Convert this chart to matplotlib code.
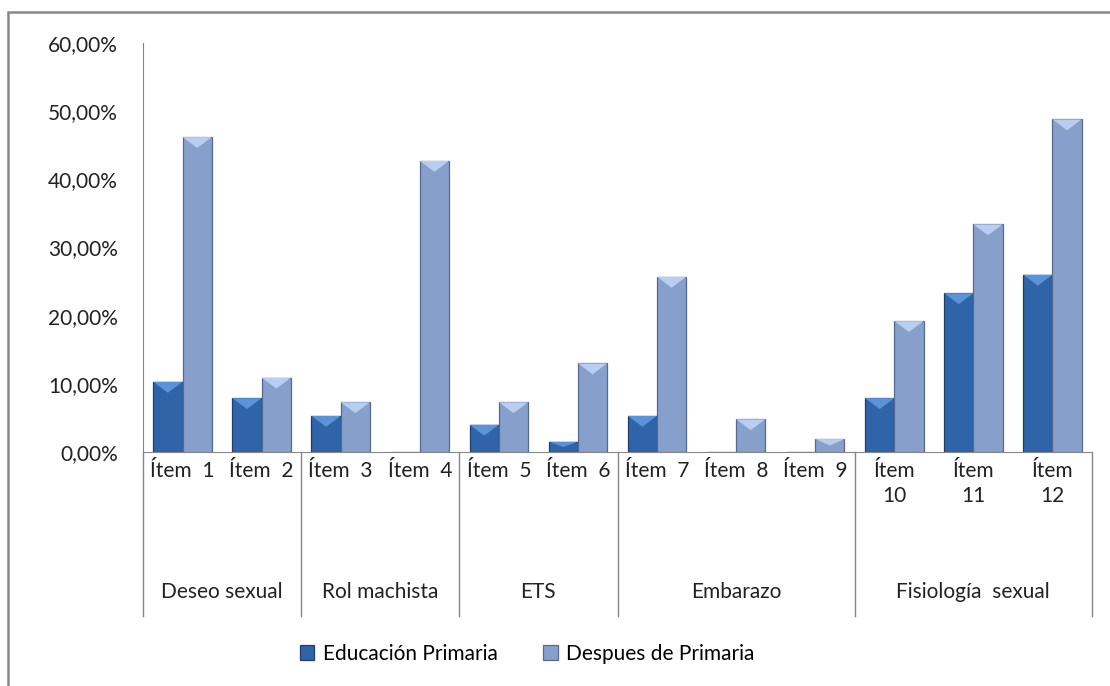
import numpy as np
import matplotlib
matplotlib.use("Agg")
import matplotlib.pyplot as plt
from matplotlib.patches import Rectangle
from matplotlib.ticker import FuncFormatter

plt.rcParams['font.family'] = ['Lato', 'DejaVu Sans']

items = ["Ítem  1", "Ítem  2", "Ítem  3", "Ítem  4", "Ítem  5", "Ítem  6",
         "Ítem  7", "Ítem  8", "Ítem  9", "Ítem\n10", "Ítem\n11", "Ítem\n12"]
groups = ["Deseo sexual", "Rol machista", "ETS", "Embarazo", "Fisiología  sexual"]
group_sizes = [2, 2, 2, 3, 3]
edu_primaria = [10.3, 7.9, 5.3, 0.0, 4.0, 1.5, 5.3, 0.0, 0.0, 7.9, 23.3, 26.0]
despues_primaria = [46.2, 10.9, 7.3, 42.7, 7.3, 13.0, 25.7, 4.8, 1.9, 19.2, 33.4, 48.8]

fs = 15
fig = plt.figure(figsize=(11.1, 6.86), dpi=100)
ax = fig.add_axes([143/1110, 1 - 452/686, (1092 - 143)/1110, (452 - 43)/686])

x = np.arange(len(items))
w = 0.37
c_edu = '#2f65a8'
c_desp = '#879fcb'
b1 = ax.bar(x - w/2, edu_primaria, w, color=c_edu, edgecolor='#1f3f6b', linewidth=0.9,
            label='Educación Primaria')
b2 = ax.bar(x + w/2, despues_primaria, w, color=c_desp, edgecolor='#56698c', linewidth=0.9,
            label='Despues de Primaria')

# light bevel (V shape) on top of each bar
for bars, hi in ((b1, '#5b93d8'), (b2, '#b8cdf0')):
    for r in bars:
        h = r.get_height()
        if h <= 0:
            continue
        bh = min(1.6, h / 2)
        x0, x1 = r.get_x(), r.get_x() + r.get_width()
        ax.fill([x0, x1, (x0 + x1) / 2], [h, h, h - bh], color=hi, zorder=3, lw=0)

ax.set_xlim(-0.5, len(items) - 0.5)
ax.set_ylim(0, 60)
ax.set_yticks(np.arange(0, 61, 10))
ax.yaxis.set_major_formatter(FuncFormatter(lambda v, p: f"{v:.2f}%".replace('.', ',')))
ax.tick_params(axis='y', length=0, pad=18, labelsize=fs, labelcolor='#222222')
ax.set_xticks([])
for s in ['top', 'right']:
    ax.spines[s].set_visible(False)
for s in ['left', 'bottom']:
    ax.spines[s].set_color('#868686')

trans = ax.get_xaxis_transform()
for i, lab in enumerate(items):
    ax.text(i, -0.022, lab, transform=trans, ha='center', va='top', fontsize=fs,
            color='#222222', linespacing=1.3)

bounds = np.concatenate([[0], np.cumsum(group_sizes)]) - 0.5
for b in bounds:
    ax.plot([b, b], [0, -0.4], transform=trans, color='#868686', lw=1, clip_on=False)
for g, lo, hi in zip(groups, bounds[:-1], bounds[1:]):
    ax.text((lo + hi) / 2, -0.342, g, transform=trans, ha='center', va='center',
            fontsize=fs, color='#222222')

fig.legend(handles=[b1, b2], loc='center', bbox_to_anchor=(0.475, 1 - 654/686), ncol=2,
           frameon=False, fontsize=fs, handlelength=0.7, handleheight=0.7,
           handletextpad=0.4, columnspacing=2.2)

fig.patches.append(Rectangle((8/1110, -0.1), 1.2, 1 - 12/686 + 0.1, transform=fig.transFigure,
                             fill=False, edgecolor='#888888', lw=1.8))

fig.savefig('out.png', dpi=100)
